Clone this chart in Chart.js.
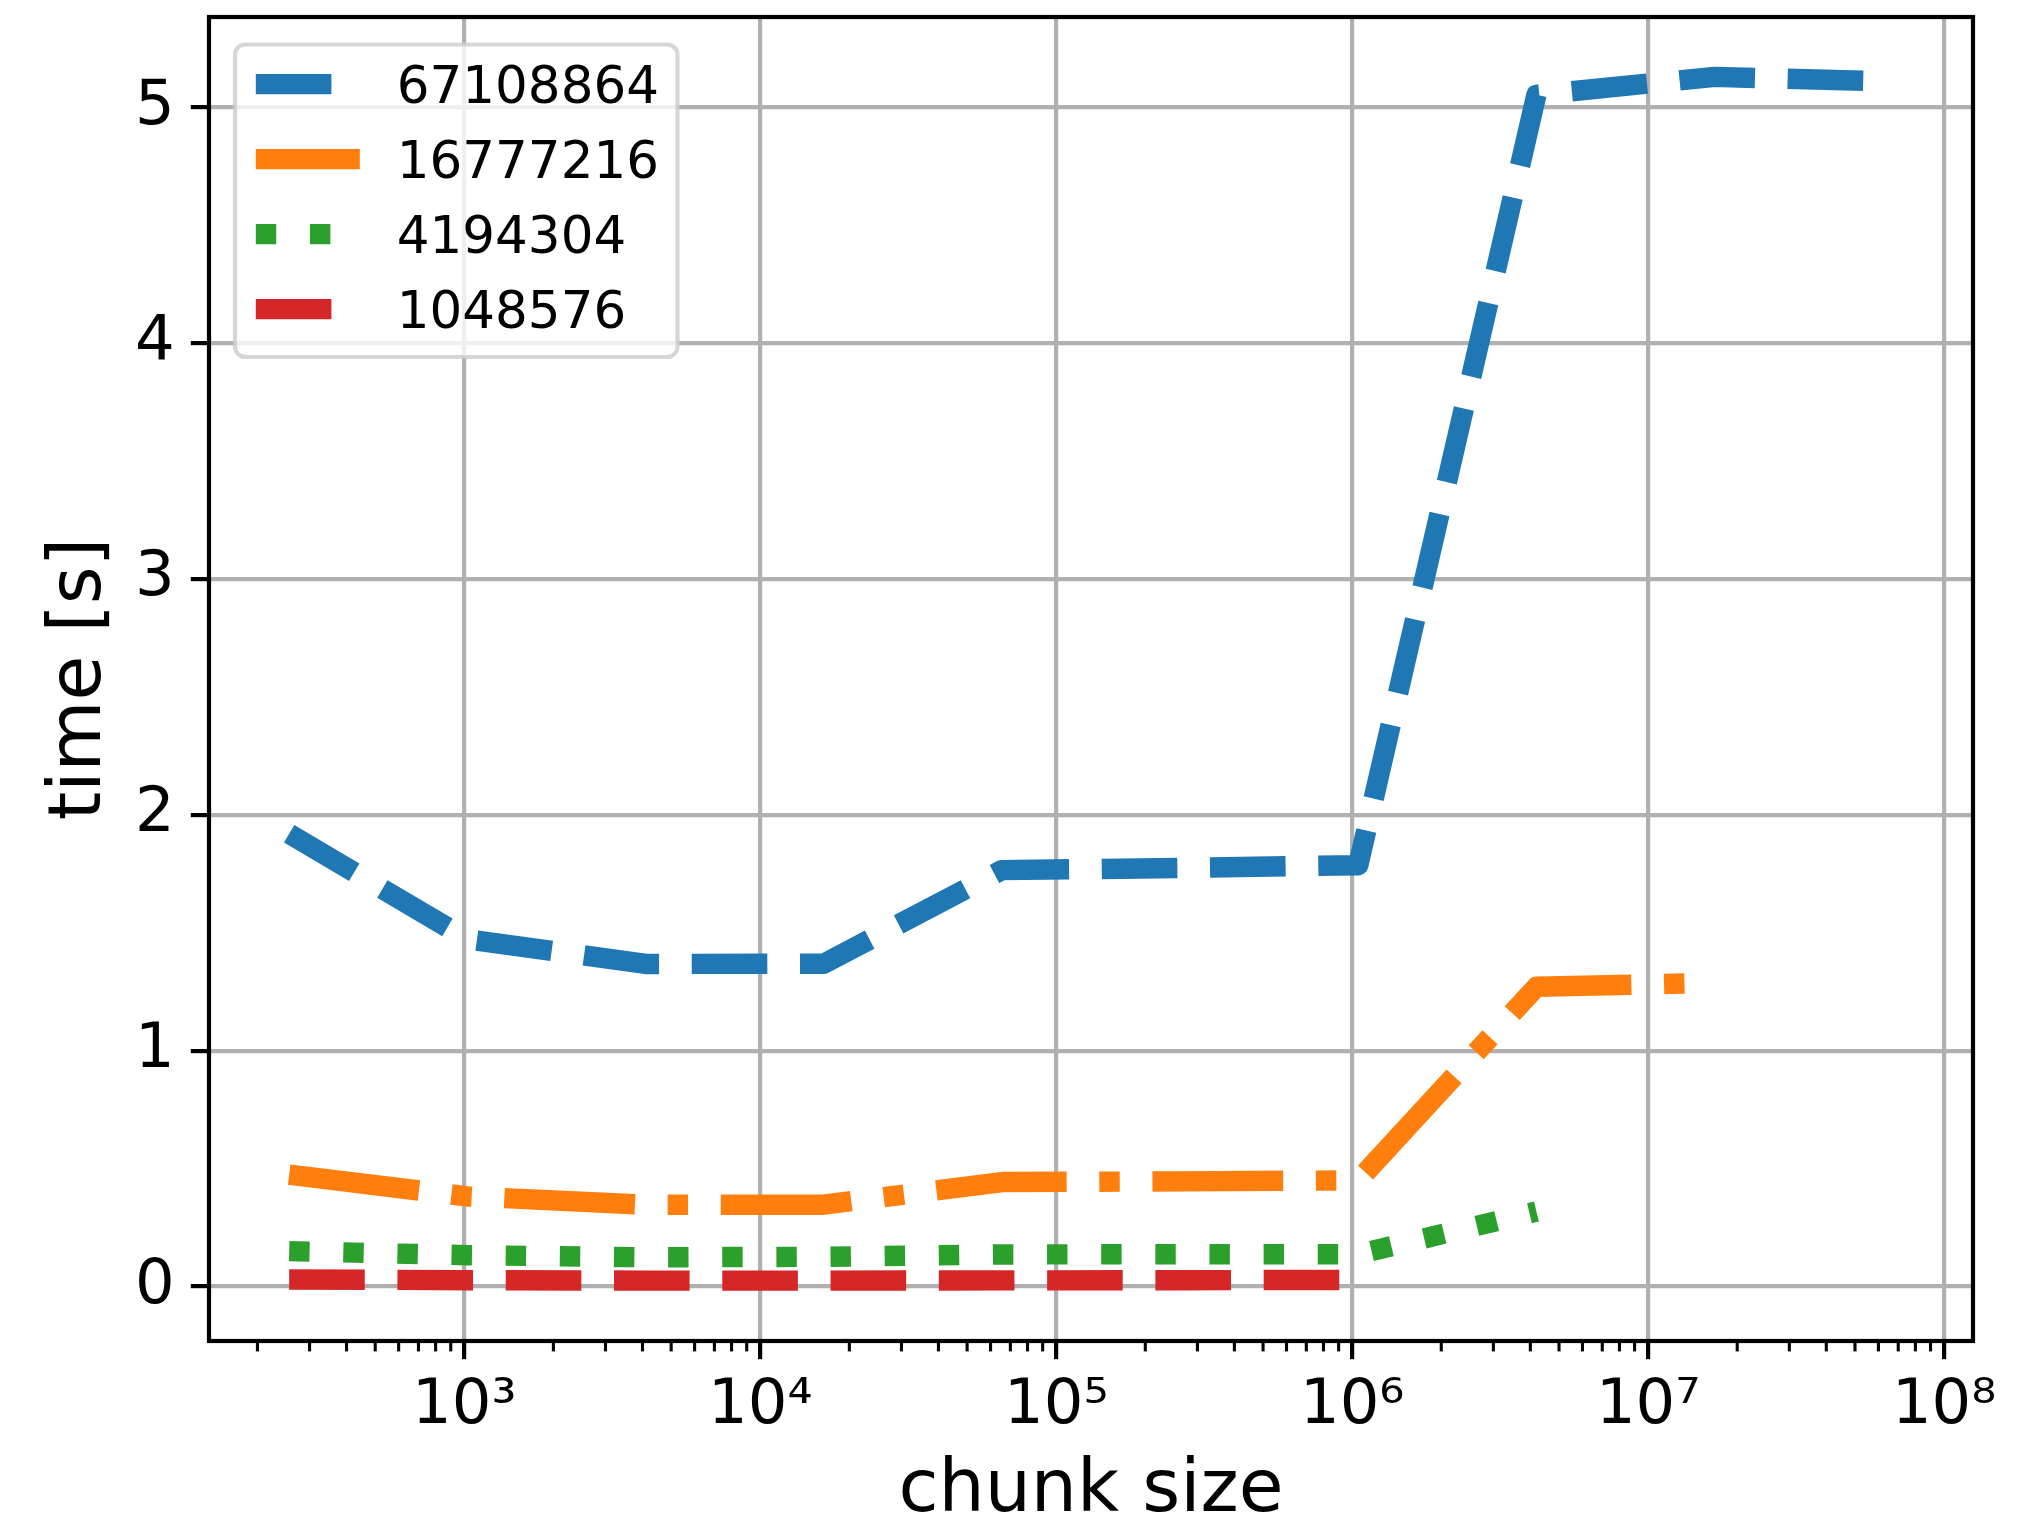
<!DOCTYPE html>
<html lang="en">
<head>
<meta charset="utf-8">
<title>time vs chunk size</title>
<script src="https://cdn.jsdelivr.net/npm/chart.js@4.4.1/dist/chart.umd.min.js"></script>
<style>
  html, body { margin: 0; padding: 0; background: #fff; overflow: hidden; }
  canvas { display: block; }
</style>
</head>
<body>
<canvas id="chart" width="2039" height="1520"></canvas>
<script>
// chunk sizes on x; each series runs from 256 up to its own total size
const chunkSizes = [256, 1024, 4096, 16384, 65536, 262144, 1048576, 4194304, 16777216, 67108864];

const seriesLabels = ["67108864", "16777216", "4194304", "1048576"];
const time67108864 = [1.92, 1.473, 1.368, 1.369, 1.766, 1.775, 1.787, 5.054, 5.13, 5.11];
const time16777216 = [0.475, 0.382, 0.347, 0.347, 0.443, 0.446, 0.45, 1.271, 1.288];
const time4194304 = [0.15, 0.133, 0.124, 0.126, 0.136, 0.137, 0.137, 0.318];
const time1048576 = [0.03, 0.027, 0.025, 0.025, 0.026, 0.027, 0.028];

const yTicks = [0, 1, 2, 3, 4, 5];
const xDecades = [1e3, 1e4, 1e5, 1e6, 1e7, 1e8];
const xDecadeLabels = ["10³", "10⁴", "10⁵", "10⁶", "10⁷", "10⁸"];

// --- styles (matplotlib-ish) ---
const FONT = "DejaVu Sans";
const LW = 20.43;
const seriesStyles = [
  { color: "#1f77b4", dash: [3.7, 1.6] },          // dashed
  { color: "#ff7f0e", dash: [6.4, 1.6, 1, 1.6] },  // dashdot
  { color: "#2ca02c", dash: [1, 1.65] },           // dotted
  { color: "#d62728", dash: [3.7, 1.6] },          // dashed
];
const seriesValues = [time67108864, time16777216, time4194304, time1048576];

const X_MIN = 137.2;
const X_MAX = 1.2523e8;
const Y_MIN = -0.231;
const Y_MAX = 5.384;

function isDecade(v) {
  const l = Math.log10(v);
  return Math.abs(l - Math.round(l)) < 1e-9;
}

function decadeLabel(v) {
  const idx = xDecades.findIndex((d) => Math.abs(Math.log10(d) - Math.log10(v)) < 1e-9);
  return idx >= 0 ? xDecadeLabels[idx] : "";
}

// major ticks at decades, minor ticks at 2..9 x 10^n
function buildLogTicks(min, max) {
  const ticks = [];
  for (let e = Math.floor(Math.log10(min)); e <= Math.ceil(Math.log10(max)); e++) {
    for (let m = 1; m <= 9; m++) {
      const v = m * Math.pow(10, e);
      if (v >= min && v <= max) ticks.push({ value: v, major: m === 1 });
    }
  }
  return ticks;
}

const datasets = seriesLabels.map((label, i) => ({
  label: label,
  data: seriesValues[i].map((y, j) => ({ x: chunkSizes[j], y: y })),
  borderColor: seriesStyles[i].color,
  backgroundColor: seriesStyles[i].color,
  borderWidth: LW,
  borderDash: seriesStyles[i].dash.map((d) => d * LW),
  borderCapStyle: "butt",
  borderJoinStyle: "round",
  pointRadius: 0,
  tension: 0,
  fill: false,
  order: seriesLabels.length - 1 - i, // first series drawn first, last on top
}));

// frame, minor ticks and the legend box inside the axes
const decorPlugin = {
  id: "decor",
  afterDraw(chart) {
    const ctx = chart.ctx;
    const ca = chart.chartArea;
    const xs = chart.scales.x;

    ctx.save();
    // minor x ticks
    ctx.strokeStyle = "#000";
    ctx.lineWidth = 3.1;
    xs.ticks.forEach((t) => {
      if (isDecade(t.value)) return;
      const px = xs.getPixelForValue(t.value);
      ctx.beginPath();
      ctx.moveTo(px, ca.bottom);
      ctx.lineTo(px, ca.bottom + 10.4);
      ctx.stroke();
    });

    // frame
    ctx.lineWidth = 4.2;
    ctx.strokeRect(ca.left, ca.top, ca.right - ca.left, ca.bottom - ca.top);

    // legend
    const bx = ca.left + 26;
    const by = ca.top + 27.5;
    const bw = 442.5;
    const bh = 312.5;
    const r = 10.4;
    ctx.beginPath();
    ctx.moveTo(bx + r, by);
    ctx.arcTo(bx + bw, by, bx + bw, by + bh, r);
    ctx.arcTo(bx + bw, by + bh, bx, by + bh, r);
    ctx.arcTo(bx, by + bh, bx, by, r);
    ctx.arcTo(bx, by, bx + bw, by, r);
    ctx.closePath();
    ctx.fillStyle = "rgba(255,255,255,0.8)";
    ctx.fill();
    ctx.strokeStyle = "rgba(204,204,204,0.8)";
    ctx.lineWidth = 4.2;
    ctx.stroke();

    const hx0 = bx + 20.8;
    const hx1 = hx0 + 104;
    const tx = hx1 + 37;
    ctx.font = `51.5px "${FONT}"`;
    ctx.textAlign = "left";
    ctx.textBaseline = "alphabetic";
    chart.data.datasets.forEach((ds, i) => {
      const cy = by + 39.6 + i * 75;
      ctx.beginPath();
      ctx.setLineDash(ds.borderDash);
      ctx.lineDashOffset = 0;
      ctx.lineCap = "butt";
      ctx.strokeStyle = ds.borderColor;
      ctx.lineWidth = ds.borderWidth;
      ctx.moveTo(hx0, cy);
      ctx.lineTo(hx1, cy);
      ctx.stroke();
      ctx.setLineDash([]);
      ctx.fillStyle = "#000";
      ctx.fillText(ds.label, tx, by + 58.6 + i * 75);
    });
    ctx.restore();
  },
};

new Chart(document.getElementById("chart"), {
  type: "line",
  data: { datasets: datasets },
  plugins: [decorPlugin],
  options: {
    responsive: false,
    animation: false,
    events: [],
    layout: { padding: { left: 0, top: 17, right: 66, bottom: 0 } },
    plugins: {
      legend: { display: false },
      tooltip: { enabled: false },
    },
    scales: {
      x: {
        type: "logarithmic",
        min: X_MIN,
        max: X_MAX,
        bounds: "data",
        afterBuildTicks: (scale) => {
          scale.ticks = buildLogTicks(X_MIN, X_MAX);
        },
        afterFit: (scale) => {
          scale.height = 179;
          scale.paddingLeft = 0;
          scale.paddingRight = 0;
        },
        border: { display: false },
        grid: {
          color: (ctx) => (ctx.tick && isDecade(ctx.tick.value) ? "#b0b0b0" : "rgba(0,0,0,0)"),
          lineWidth: 4.2,
          drawTicks: true,
          tickLength: 18.2,
          tickWidth: 4.2,
          tickColor: (ctx) => (ctx.tick && isDecade(ctx.tick.value) ? "#000" : "rgba(0,0,0,0)"),
        },
        ticks: {
          autoSkip: false,
          maxRotation: 0,
          minRotation: 0,
          padding: 10,
          color: "#000",
          font: { family: FONT, size: 62.4 },
          callback: (value) => (isDecade(value) ? decadeLabel(value) : ""),
        },
        title: {
          display: true,
          text: "chunk size",
          color: "#000",
          font: { family: FONT, size: 72.8, lineHeight: 0.5 },
          padding: { top: 0, bottom: 10 },
        },
      },
      y: {
        type: "linear",
        min: Y_MIN,
        max: Y_MAX,
        bounds: "data",
        afterBuildTicks: (scale) => {
          scale.ticks = yTicks.map((v) => ({ value: v }));
        },
        afterFit: (scale) => {
          scale.width = 209;
          scale.paddingTop = 0;
          scale.paddingBottom = 0;
        },
        border: { display: false },
        grid: {
          color: "#b0b0b0",
          lineWidth: 4.2,
          drawTicks: true,
          tickLength: 18.2,
          tickWidth: 4.2,
          tickColor: "#000",
        },
        ticks: {
          padding: 16,
          color: "#000",
          font: { family: FONT, size: 62.4 },
          callback: (value) => String(value),
        },
        title: {
          display: true,
          text: "time [s]",
          color: "#000",
          font: { family: FONT, size: 72.8, lineHeight: 1.2 },
          padding: { top: 37, bottom: 0 },
        },
      },
    },
  },
});
</script>
</body>
</html>
